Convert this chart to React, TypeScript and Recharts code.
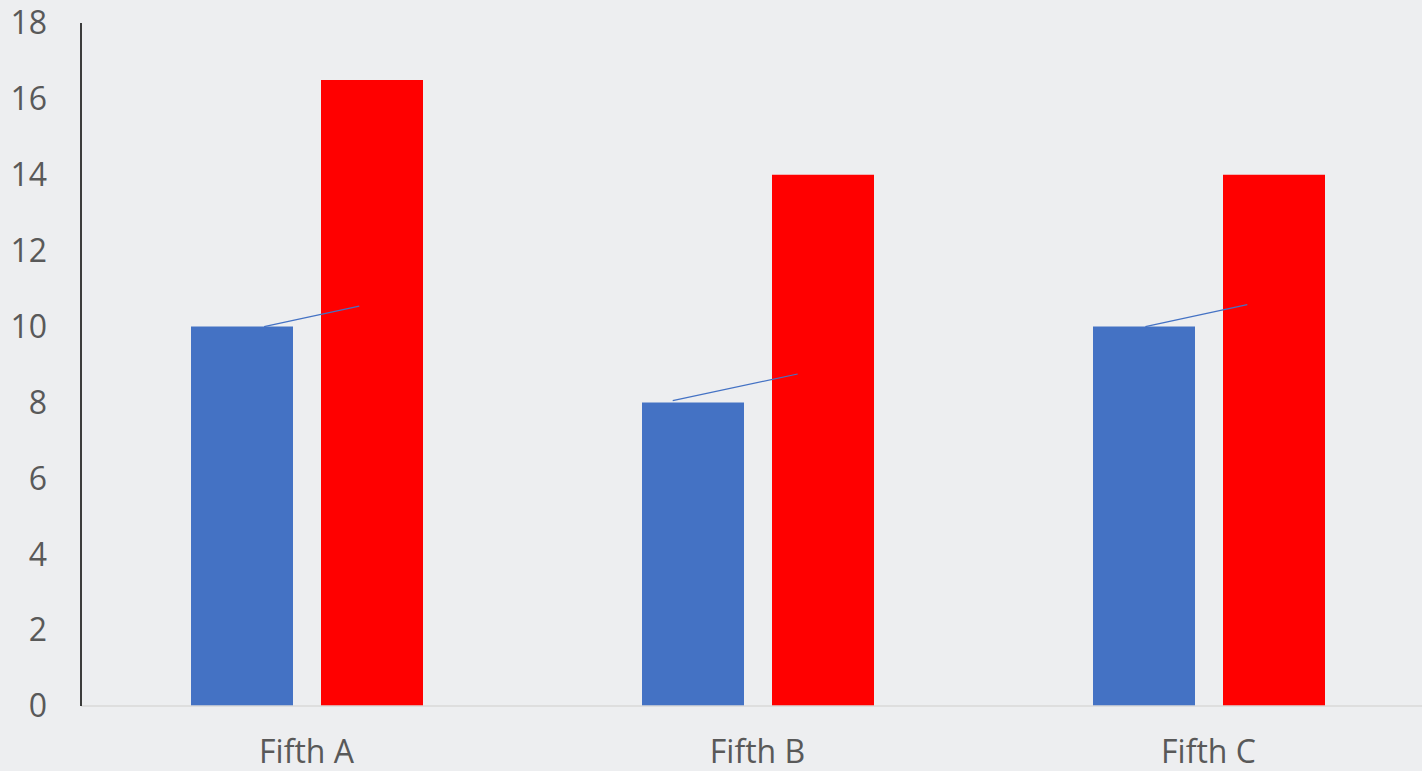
import { Bar, BarChart, ReferenceLine, XAxis, YAxis } from "recharts";

const categories = ["Fifth A", "Fifth B", "Fifth C"];
const blueValues = [10, 8, 10];
const redValues = [16.5, 14, 14];
const yTicks = [0, 2, 4, 6, 8, 10, 12, 14, 16, 18];

// short connector strokes, x in category units (0..3), y in value units
const segX1 = [0.406, 1.312, 2.36];
const segX2 = [0.617, 1.589, 2.586];
const segY1 = [10, 8.05, 10];
const segY2 = [10.54, 8.75, 10.58];

const data = categories.map((name, i) => ({
  name,
  slot: i,
  blue: blueValues[i],
  red: redValues[i],
}));

const tickStyle = {
  fill: "#595959",
  fontSize: 32,
  fontFamily: "'Open Sans', 'Noto Sans', sans-serif",
};

export default function App() {
  return (
    <div
      style={{
        position: "absolute",
        left: 0,
        top: 0,
        width: 1422,
        height: 771,
        overflow: "hidden",
        background: "#edeef0",
      }}
    >
      <BarChart
        width={1434}
        height={771}
        data={data}
        margin={{ top: 23, right: 0, bottom: 0, left: 0 }}
        barCategoryGap={110}
        barGap={28}
      >
        <XAxis
          dataKey="name"
          xAxisId="cat"
          axisLine={{ stroke: "#d9d9d9", strokeWidth: 1.5 }}
          tickLine={false}
          tickSize={0}
          tickMargin={34}
          tick={tickStyle}
          height={65}
        />
        <XAxis
          xAxisId="pos"
          dataKey="slot"
          type="number"
          scale="linear"
          domain={[0, 3]}
          allowDataOverflow
          hide
        />
        <YAxis
          domain={[0, 18]}
          ticks={yTicks}
          width={81}
          axisLine={{ stroke: "#000000", strokeWidth: 1.5 }}
          tickLine={false}
          tickSize={0}
          tickMargin={34}
          tick={tickStyle}
          interval={0}
        />
        <Bar dataKey="blue" xAxisId="cat" fill="#4472c4" isAnimationActive={false} />
        <Bar dataKey="red" xAxisId="cat" fill="#ff0000" isAnimationActive={false} />
        {segX1.map((x, i) => (
          <ReferenceLine
            key={i}
            xAxisId="pos"
            segment={[
              { x, y: segY1[i] },
              { x: segX2[i], y: segY2[i] },
            ]}
            stroke="#4472c4"
            strokeWidth={1.2}
          />
        ))}
      </BarChart>
    </div>
  );
}
